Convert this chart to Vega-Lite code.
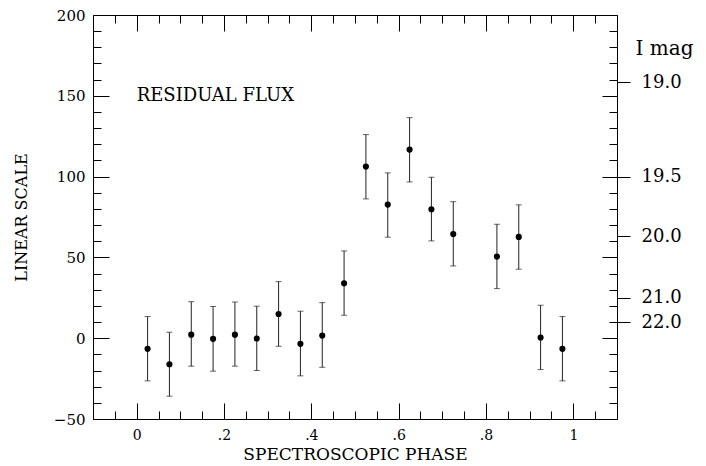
{
  "$schema": "https://vega.github.io/schema/vega-lite/v6.json",
  "width": 524,
  "height": 404,
  "autosize": {"type": "none"},
  "padding": {"left": 93, "top": 15, "right": 89, "bottom": 47},
  "background": "white",
  "config": {
    "view": {"stroke": null},
    "axis": {
      "grid": false,
      "domainColor": "black",
      "domainWidth": 1,
      "tickColor": "black",
      "tickWidth": 1,
      "labelFont": "DejaVu Serif",
      "labelFontSize": 14,
      "labelColor": "black",
      "titleFont": "DejaVu Serif",
      "titleFontSize": 16,
      "titleFontWeight": "normal",
      "titleColor": "black",
      "labelFlush": false,
      "labelOverlap": false
    }
  },
  "data": {
    "values": [
      {"phase": 0.025, "flux": -6.6, "lo": -26.4, "hi": 13.4},
      {"phase": 0.075, "flux": -16.1, "lo": -35.9, "hi": 3.7},
      {"phase": 0.125, "flux": 2.2, "lo": -17.3, "hi": 22.6},
      {"phase": 0.175, "flux": -0.4, "lo": -20.4, "hi": 19.6},
      {"phase": 0.225, "flux": 2.2, "lo": -17.3, "hi": 22.4},
      {"phase": 0.275, "flux": -0.2, "lo": -20.0, "hi": 19.8},
      {"phase": 0.325, "flux": 15.0, "lo": -5.0, "hi": 35.0},
      {"phase": 0.375, "flux": -3.5, "lo": -23.3, "hi": 16.7},
      {"phase": 0.425, "flux": 1.6, "lo": -18.0, "hi": 22.0},
      {"phase": 0.475, "flux": 34.0, "lo": 14.2, "hi": 54.0},
      {"phase": 0.525, "flux": 106.2, "lo": 86.2, "hi": 126.0},
      {"phase": 0.575, "flux": 82.7, "lo": 62.5, "hi": 102.3},
      {"phase": 0.625, "flux": 116.7, "lo": 96.7, "hi": 136.5},
      {"phase": 0.675, "flux": 79.8, "lo": 60.2, "hi": 99.6},
      {"phase": 0.725, "flux": 64.5, "lo": 44.7, "hi": 84.5},
      {"phase": 0.825, "flux": 50.5, "lo": 30.7, "hi": 70.5},
      {"phase": 0.875, "flux": 62.7, "lo": 42.7, "hi": 82.5},
      {"phase": 0.925, "flux": 0.4, "lo": -19.4, "hi": 20.4},
      {"phase": 0.975, "flux": -6.6, "lo": -26.4, "hi": 13.4}
    ]
  },
  "resolve": {"axis": {"x": "independent", "y": "independent"}},
  "layer": [
    {
      "mark": {"type": "rule", "color": "#222", "strokeWidth": 1},
      "encoding": {
        "x": {
          "field": "phase", "type": "quantitative",
          "scale": {"domain": [-0.1, 1.1], "nice": false, "zero": false},
          "axis": {
            "orient": "bottom",
            "values": [0, 0.2, 0.4, 0.6, 0.8, 1],
            "tickSize": -16,
            "labelPadding": 25,
            "labelExpr": "datum.value == 0 ? '0' : datum.value == 1 ? '1' : replace(format(datum.value, '.1f'), '0.', '.')",
            "title": "SPECTROSCOPIC PHASE",
            "titleFontSize": 17,
            "titlePadding": 4
          }
        },
        "y": {
          "field": "lo", "type": "quantitative",
          "scale": {"domain": [-50, 200], "nice": false, "zero": false},
          "axis": {
            "orient": "left",
            "values": [-50, 0, 50, 100, 150, 200],
            "tickSize": -16,
            "labelPadding": 24,
            "labelFontSize": 15,
            "title": "LINEAR SCALE",
            "titlePadding": 24
          }
        },
        "y2": {"field": "hi"}
      }
    },
    {
      "mark": {"type": "tick", "orient": "horizontal", "color": "#222", "size": 6, "thickness": 1},
      "encoding": {
        "x": {
          "field": "phase", "type": "quantitative",
          "scale": {"domain": [-0.1, 1.1], "nice": false, "zero": false},
          "axis": {
            "orient": "bottom",
            "values": [-0.05, 0.05, 0.1, 0.15, 0.25, 0.3, 0.35, 0.45, 0.5, 0.55, 0.65, 0.7, 0.75, 0.85, 0.9, 0.95, 1.05],
            "tickSize": -8,
            "labels": false,
            "title": null
          }
        },
        "y": {
          "field": "lo", "type": "quantitative",
          "scale": {"domain": [-50, 200], "nice": false, "zero": false},
          "axis": {
            "orient": "left",
            "values": [-40, -30, -20, -10, 10, 20, 30, 40, 60, 70, 80, 90, 110, 120, 130, 140, 160, 170, 180, 190],
            "tickSize": -8,
            "labels": false,
            "domain": false,
            "title": null
          }
        }
      }
    },
    {
      "mark": {"type": "tick", "orient": "horizontal", "color": "#222", "size": 6, "thickness": 1},
      "encoding": {
        "x": {
          "field": "phase", "type": "quantitative",
          "scale": {"domain": [-0.1, 1.1], "nice": false, "zero": false},
          "axis": {
            "orient": "top",
            "values": [0, 0.2, 0.4, 0.6, 0.8, 1],
            "tickSize": -16,
            "labels": false,
            "title": null
          }
        },
        "y": {
          "field": "hi", "type": "quantitative",
          "scale": {"domain": [-50, 200], "nice": false, "zero": false},
          "axis": {
            "orient": "right",
            "values": [-50, 0, 50, 100, 150, 200],
            "tickSize": -15,
            "labels": false,
            "title": null
          }
        }
      }
    },
    {
      "mark": {"type": "circle", "color": "black", "size": 38, "opacity": 1},
      "encoding": {
        "x": {
          "field": "phase", "type": "quantitative",
          "scale": {"domain": [-0.1, 1.1], "nice": false, "zero": false},
          "axis": {
            "orient": "top",
            "values": [-0.05, 0.05, 0.1, 0.15, 0.25, 0.3, 0.35, 0.45, 0.5, 0.55, 0.65, 0.7, 0.75, 0.85, 0.9, 0.95, 1.05],
            "tickSize": -8,
            "labels": false,
            "domain": false,
            "title": null
          }
        },
        "y": {
          "field": "flux", "type": "quantitative",
          "scale": {"domain": [-50, 200], "nice": false, "zero": false},
          "axis": {
            "orient": "right",
            "values": [-40, -30, -20, -10, 10, 20, 30, 40, 60, 70, 80, 90, 110, 120, 130, 140, 160, 170, 180, 190],
            "tickSize": -8,
            "labels": false,
            "domain": false,
            "title": null
          }
        }
      }
    },
    {
      "data": {"values": [{"label": "RESIDUAL FLUX"}]},
      "mark": {"type": "text", "align": "left", "baseline": "middle", "font": "DejaVu Serif", "fontSize": 18, "color": "black"},
      "encoding": {
        "text": {"field": "label"},
        "x": {
          "datum": 0, "type": "quantitative",
          "scale": {"domain": [-0.1, 1.1], "nice": false, "zero": false},
          "axis": null
        },
        "y": {
          "datum": 150, "type": "quantitative",
          "scale": {"domain": [-50, 200], "nice": false, "zero": false},
          "axis": {
            "orient": "right",
            "values": [158.5, 100, 63.1, 25.1, 10],
            "tickSize": 13,
            "labelPadding": 11,
            "labelFontSize": 18,
            "labelAlign": "left",
            "domain": false,
            "labelExpr": "datum.value > 150 ? '19.0' : datum.value > 90 ? '19.5' : datum.value > 60 ? '20.0' : datum.value > 20 ? '21.0' : '22.0'",
            "title": "I mag",
            "titleAngle": 0,
            "titleAlign": "left",
            "titleBaseline": "middle",
            "titleX": 18,
            "titleY": 33,
            "titleFontSize": 20
          }
        }
      }
    }
  ]
}
